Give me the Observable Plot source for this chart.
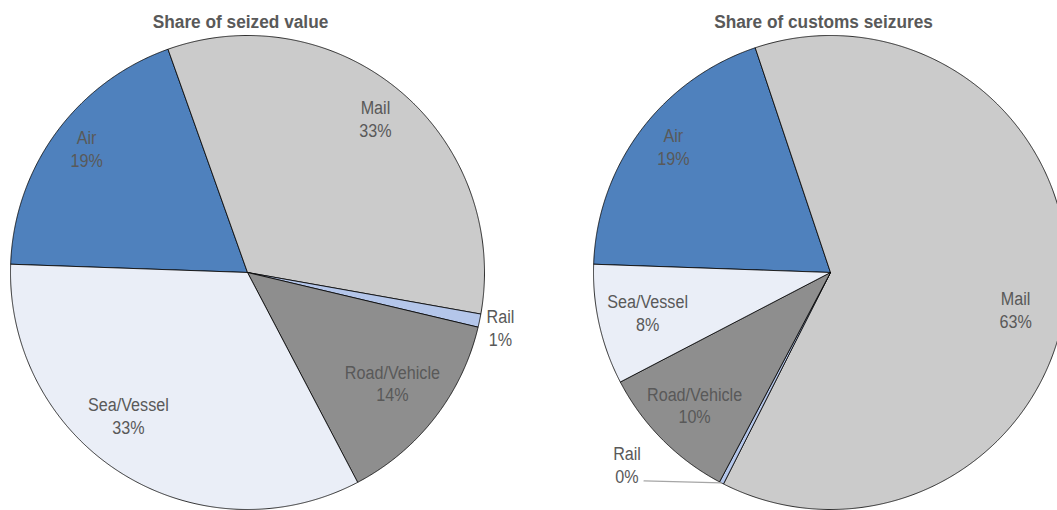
<!DOCTYPE html>
<html>
<head>
<meta charset="utf-8">
<script src="https://cdn.jsdelivr.net/npm/d3@7"></script>
<script src="https://cdn.jsdelivr.net/npm/@observablehq/plot@0.6"></script>
<style>
  html, body { margin: 0; padding: 0; background: #fff; }
</style>
</head>
<body>
<div id="chart"></div>
<script>
// ---------------- data ----------------
const modes = ["Air", "Mail", "Rail", "Road/Vehicle", "Sea/Vessel"];
const seizedValueShare = [19.0, 33.25, 0.9, 13.6, 33.25];     // % of seized value
const customsSeizuresShare = [19.3, 62.6, 0.3, 9.6, 8.2];     // % of customs seizures
const pieTitles = ["Share of seized value", "Share of customs seizures"];

// ---------------- styles / layout ----------------
const sliceColors = ["#4f81bd", "#cbcbcb", "#b4c6ea", "#8e8e8e", "#eaeef7"];
const W = 1057, H = 510;
const R = 237;                 // pie radius in px
const centersPx = [[247, 272], [830, 272]];
const startDeg = 272;          // angle of first slice (clockwise from 12 o'clock)
// label placement (radius as fraction of R, angular nudge in degrees)
const labelRadius = [[0.857, 0.845, 1.092, 0.768, 0.785], [0.85, 0.796, 1.18, 0.80, 0.79]];
const labelShift  = [[1.4, -0.55, 0.45, -0.6, 7.65], [2.0, 7.0, 19.3, 0.6, 0.4]];
const leaderFor = [[false, false, false, false, false], [false, false, true, false, false]];
const font = "'Liberation Sans', Arial, sans-serif";
const textColor = "#595959";
const labelSqueeze = 0.85, titleSqueeze = 0.96;

// unit coordinates: 1 unit = R px, y up
const xDomain = [-centersPx[0][0] / R, (W - centersPx[0][0]) / R];
const yDomain = [-(H - centersPx[0][1]) / R, centersPx[0][1] / R];
const centers = centersPx.map(([px, py]) => [(px - centersPx[0][0]) / R, (centersPx[0][1] - py) / R]);

const polar = (c, angRad, r) => [c[0] + r * Math.sin(angRad), c[1] + r * Math.cos(angRad)];

const series = [seizedValueShare, customsSeizuresShare];
const slicePts = [], labels = [], leaders = [], titles = [];
series.forEach((vals, p) => {
  const c = centers[p];
  const a0 = startDeg * Math.PI / 180;
  const arcs = d3.pie().sort(null).startAngle(a0).endAngle(a0 + 2 * Math.PI)(vals);
  arcs.forEach((a, i) => {
    const id = p + "-" + i;
    const n = Math.max(2, Math.ceil((a.endAngle - a.startAngle) / (Math.PI / 720)));
    slicePts.push({id, x: c[0], y: c[1], color: sliceColors[i]});
    for (let k = 0; k <= n; k++) {
      const t = a.startAngle + (a.endAngle - a.startAngle) * k / n;
      const [x, y] = polar(c, t, 1);
      slicePts.push({id, x, y, color: sliceColors[i]});
    }
    slicePts.push({id, x: c[0], y: c[1], color: sliceColors[i]});
    const mid = (a.startAngle + a.endAngle) / 2;
    const la = mid + labelShift[p][i] * Math.PI / 180;
    const [lx, ly] = polar(c, la, labelRadius[p][i]);
    labels.push({x: lx, y: ly, text: `${modes[i]}\n${Math.round(vals[i])}%`});
    if (leaderFor[p][i]) {
      const [ex, ey] = polar(c, mid, 1);
      leaders.push({id: "l" + id, x: ex, y: ey});
      leaders.push({id: "l" + id, x: lx + 17 / R, y: ey + 2 / R});
    }
  });
  titles.push({x: c[0] - 7 / R, y: (centersPx[p][1] - 27) / R, text: pieTitles[p]});
});

const chart = Plot.plot({
  width: W,
  height: H,
  margin: 0,
  x: {domain: xDomain, range: [0, W], axis: null},
  y: {domain: yDomain, range: [H, 0], axis: null},
  color: {type: "identity"},
  style: {fontFamily: font, background: "#fff"},
  marks: [
    Plot.line(slicePts, {x: "x", y: "y", z: "id", fill: "color", stroke: "#000", strokeWidth: 0.8, strokeLinejoin: "round", curve: "linear"}),
    Plot.line(leaders, {x: "x", y: "y", z: "id", stroke: "#a6a6a6", strokeWidth: 1.2}),
    Plot.text(labels, {x: "x", y: "y", text: "text", fill: textColor, fontSize: 19, lineHeight: 1.2, fontFamily: font, className: "pie-labels"}),
    Plot.text(titles, {x: "x", y: "y", text: "text", fill: textColor, fontSize: 18, fontWeight: "bold", lineAnchor: "bottom", fontFamily: font, className: "pie-titles"})
  ]
});

// horizontally condense text (reference uses a narrow typeface)
function squeeze(sel, s) {
  chart.querySelectorAll(sel).forEach(el => {
    const tr = el.getAttribute("transform");
    if (tr) {
      el.setAttribute("transform", tr + ` scale(${s},1)`);
    } else {
      const x = +el.getAttribute("x") || 0, y = +el.getAttribute("y") || 0;
      el.removeAttribute("x"); el.removeAttribute("y");
      el.setAttribute("transform", `translate(${x},${y}) scale(${s},1)`);
    }
  });
}
squeeze(".pie-labels text", labelSqueeze);
squeeze(".pie-titles text", titleSqueeze);

document.getElementById("chart").appendChild(chart);
</script>
</body>
</html>
